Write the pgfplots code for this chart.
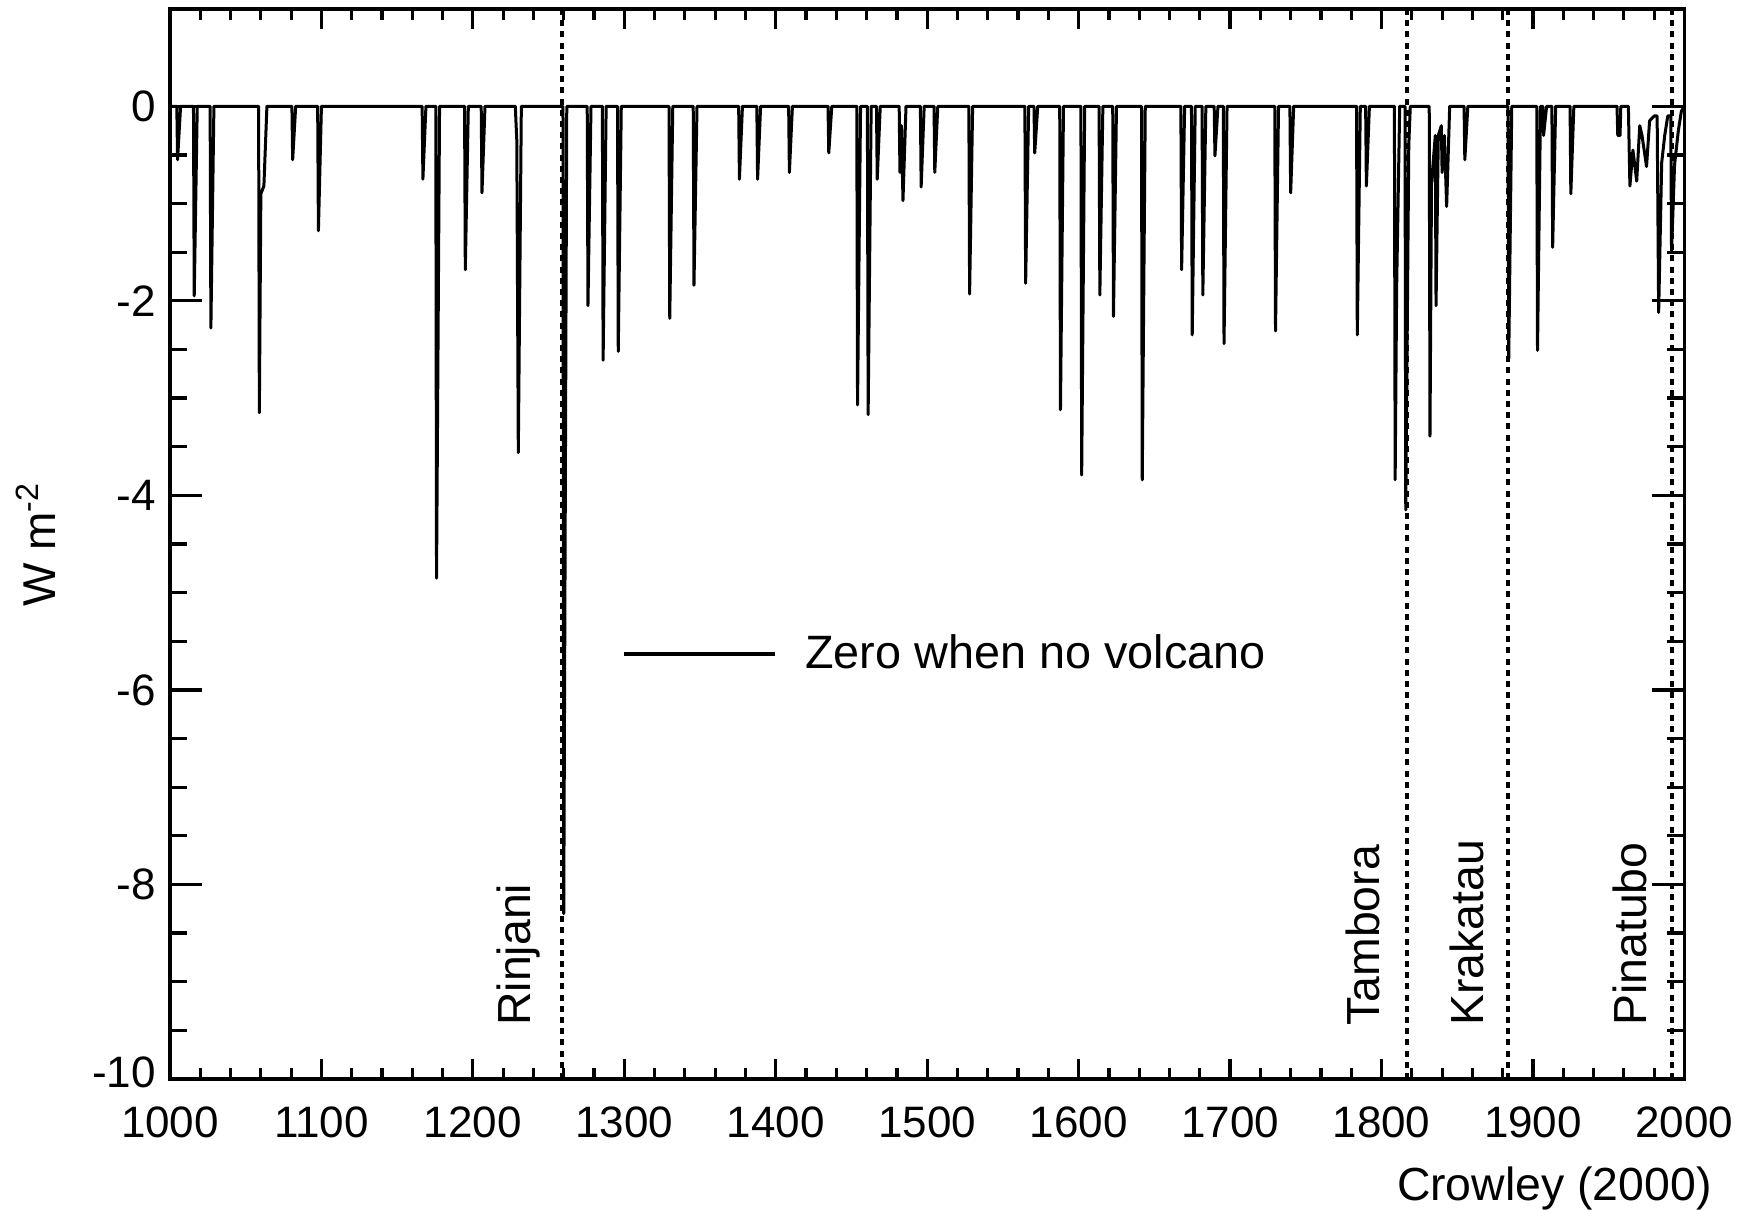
\documentclass[border=0pt]{standalone}
\usepackage{fontspec}
\setmainfont{Liberation Sans}
\usepackage{pgfplots}
\pgfplotsset{compat=1.18}
\begin{document}
\begin{tikzpicture}
\useasboundingbox (-42.5pt,-32.75pt) rectangle (394pt,269.75pt);
\begin{axis}[
  scale only axis,
  width=378.6pt, height=267.5pt,
  xmin=1000, xmax=2000, ymin=-10, ymax=1,
  xtick={1000,1100,...,2000},
  ytick={-10,-8,-6,-4,-2,0},
  yticklabels={\raisebox{3.25pt}{-10},-8,-6,-4,-2,0},
  minor x tick num=4,
  minor y tick num=3,
  tick align=inside,
  xtick pos=both, ytick pos=both,
  axis line style={line width=0.9pt},
  tick style={line width=0.8pt, black},
  xtick style={/pgfplots/major tick length=5pt,/pgfplots/minor tick length=2.75pt},
  ytick style={/pgfplots/major tick length=8pt,/pgfplots/minor tick length=4.25pt},
  /pgf/number format/assume math mode=true,
  /pgf/number format/1000 sep={},
  ticklabel style={font=\fontsize{11}{13}\selectfont},
  xticklabel style={yshift=-3.3pt},
  ylabel={W m\textsuperscript{-2}},
  ylabel style={at={(axis description cs:-0.0885,0.5)}, anchor=center, font=\fontsize{11.5}{14}\selectfont},
  xlabel={Crowley (2000)},
  xlabel style={at={(axis description cs:1.0185,-0.081)}, anchor=north east, inner sep=0pt, font=\fontsize{11.6}{14}\selectfont},
  legend style={draw=none, fill=none, at={(axis description cs:0.2977,0.397)}, anchor=west,
    inner xsep=0pt, inner ysep=0pt, column sep=5.15pt, font=\fontsize{11.7}{14}\selectfont},
  legend image code/.code={\draw[line width=1pt] (0pt,0pt) -- (37.75pt,0pt);},
  clip=true,
]
\addplot[black, line width=0.75pt, line join=round] coordinates {
(1000,0)
(1004.5,0)(1005,-0.55)(1007,0)
(1015.5,0)(1016,-1.95)(1018,0)
(1026.5,0)(1027,-2.28)(1029,0)
(1058.5,0)(1059,-3.15)(1060,-0.9)(1062,-0.82)(1064,0)
(1080.5,0)(1081,-0.55)(1083,0)
(1097.5,0)(1098,-1.28)(1100,0)
(1166.5,0)(1167,-0.75)(1169,0)
(1175.5,0)(1176,-4.85)(1178,0)
(1194.5,0)(1195,-1.68)(1197,0)
(1205.5,0)(1206,-0.89)(1208,0)
(1228,0)(1229,-0.35)(1230,-3.56)(1232,0)
(1259.5,0)(1260,-8.3)(1262,0)
(1275.5,0)(1276,-2.05)(1278,0)
(1285.5,0)(1286,-2.61)(1288,0)
(1295.5,0)(1296,-2.52)(1298,0)
(1329.5,0)(1330,-2.18)(1332,0)
(1345.5,0)(1346,-1.84)(1348,0)
(1375.5,0)(1376,-0.75)(1378,0)
(1387.5,0)(1388,-0.75)(1390,0)
(1408.5,0)(1409,-0.68)(1411,0)
(1434.5,0)(1435,-0.48)(1437,0)
(1453.5,0)(1454,-3.07)(1456,0)
(1460.5,0)(1461,-3.17)(1463,0)
(1466.5,0)(1467,-0.75)(1469,0)
(1481.5,0)(1482,-0.68)(1483,-0.2)(1484,-0.97)(1486,0)
(1495.5,0)(1496,-0.83)(1498,0)
(1504.5,0)(1505,-0.68)(1507,0)
(1527.5,0)(1528,-1.93)(1530,0)
(1564.5,0)(1565,-1.82)(1567,0)
(1570.5,0)(1571,-0.48)(1573,0)
(1587.5,0)(1588,-3.12)(1590,0)
(1601.5,0)(1602,-3.79)(1604,0)
(1613.5,0)(1614,-1.94)(1616,0)
(1622.5,0)(1623,-2.16)(1625,0)
(1641.5,0)(1642,-3.84)(1644,0)
(1667.5,0)(1668,-1.68)(1670,0)
(1674.5,0)(1675,-2.35)(1677,0)
(1681.5,0)(1682,-1.94)(1684,0)
(1689.5,0)(1690,-0.51)(1692,0)
(1695.5,0)(1696,-2.44)(1698,0)
(1729.5,0)(1730,-2.31)(1732,0)
(1739.5,0)(1740,-0.89)(1742,0)
(1783.5,0)(1784,-2.35)(1786,0)
(1789.5,0)(1790,-0.82)(1792,0)
(1808.5,0)(1809,-3.84)(1810,-1.85)(1812,0)
(1815.5,0)(1816,-4.15)(1818,-0.4)(1819,0)
(1831.5,0)(1832,-3.39)(1833,-0.8)(1835.5,-0.3)(1836,-2.05)(1837.5,-0.3)(1839.5,-0.2)(1840,-0.68)(1841.5,-0.3)(1843,-1.03)(1845,0)
(1854.5,0)(1855,-0.55)(1857,0)
(1883.5,0)(1884,-2.6)(1886,0)
(1902.5,0)(1903,-2.51)(1905,0)(1906.5,0)(1907,-0.3)(1909,0)
(1912.5,0)(1913,-1.45)(1915,0)
(1924.5,0)(1925,-0.9)(1927,0)
(1955.5,0)(1956,-0.3)(1957.5,-0.3)(1958,0)(1963,0)(1964,-0.82)(1966,-0.45)(1968.5,-0.77)(1970.5,-0.2)(1972,-0.3)(1975,-0.62)(1977,-0.15)(1980,-0.1)(1982,-0.1)(1983,-2.12)(1985,-0.58)(1987,-0.3)(1989,-0.1)(1991,-0.1)(1991.5,-1.5)(1993.5,-0.6)(1996,-0.25)(1998,-0.05)(2000,0)
};
\addlegendentry{Zero when no volcano}
\addplot[black, line width=1pt, dash pattern=on 1.5pt off 1.3pt, forget plot] coordinates {(1259,-10)(1259,1)};
\addplot[black, line width=1pt, dash pattern=on 1.5pt off 1.3pt, forget plot] coordinates {(1816.5,-10)(1816.5,1)};
\addplot[black, line width=1pt, dash pattern=on 1.5pt off 1.3pt, forget plot] coordinates {(1883.5,-10)(1883.5,1)};
\addplot[black, line width=1pt, dash pattern=on 1.5pt off 1.3pt, forget plot] coordinates {(1991.5,-10)(1991.5,1)};
\node[rotate=90, anchor=west, inner sep=0pt, font=\fontsize{11.6}{14}\selectfont] at (axis cs:1230.3,-9.46) {Rinjani};
\node[rotate=90, anchor=west, inner sep=0pt, font=\fontsize{11.6}{14}\selectfont] at (axis cs:1788,-9.46) {Tambora};
\node[rotate=90, anchor=west, inner sep=0pt, font=\fontsize{11.6}{14}\selectfont] at (axis cs:1856.7,-9.46) {Krakatau};
\node[rotate=90, anchor=west, inner sep=0pt, font=\fontsize{11.6}{14}\selectfont] at (axis cs:1964,-9.46) {Pinatubo};
\end{axis}
\end{tikzpicture}
\end{document}
